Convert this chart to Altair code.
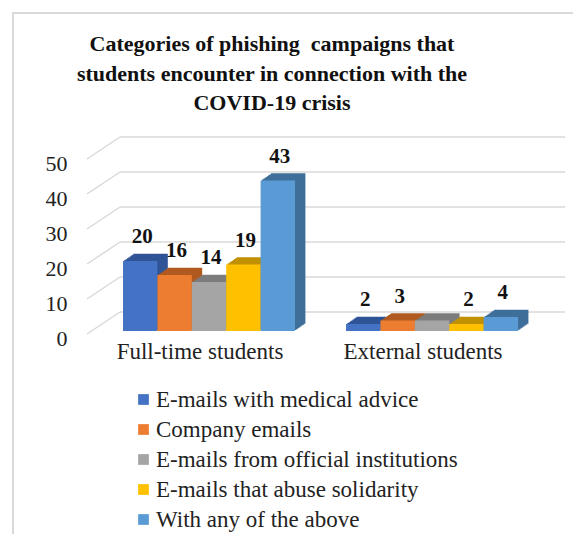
import altair as alt
import pandas as pd

# ---- data ----
groups = ["Full-time students", "External students"]
series = [
    "E-mails with medical advice",
    "Company emails",
    "E-mails from official institutions",
    "E-mails that abuse solidarity",
    "With any of the above",
]
full_time = [20, 16, 14, 19, 43]
external = [2, 3, 3, 2, 4]
full_time_label_shown = [True, True, True, True, True]
external_label_shown = [True, True, False, True, True]
y_ticks = [0, 10, 20, 30, 40, 50]

colors = ["#4472C4", "#ED7D31", "#A5A5A5", "#FFC000", "#5B9BD5"]
dark_colors = ["#2F5597", "#B05A20", "#7C7C7C", "#C09100", "#3F6F9A"]

title_lines = [
    "Categories of phishing\u00a0 campaigns that",
    "students encounter in connection with the",
    "COVID-19 crisis",
]

rows = []
for i, s in enumerate(series):
    rows.append(dict(group=groups[0], series=s, value=full_time[i],
                     show=full_time_label_shown[i], dark=dark_colors[i]))
    rows.append(dict(group=groups[1], series=s, value=external[i],
                     show=external_label_shown[i], dark=dark_colors[i]))
df = pd.DataFrame(rows)
grid_df = pd.DataFrame({"tick": y_ticks})

W, H = 478, 175
BW = 172.0  # width of one category band in pixels
FONT = "Liberation Serif, Times New Roman, serif"

xscale = alt.Scale(domain=groups, paddingInner=0.2287, paddingOuter=0.186, align=0.434)
yscale = alt.Scale(domain=[0, 50], nice=False, zero=True)


def xoff_scale(shift=0.0):
    return alt.Scale(type="band", domain=series, range=[shift, BW + shift],
                     paddingInner=0, paddingOuter=0)


x_axis = alt.Axis(domain=False, ticks=False, labelFont=FONT, labelFontSize=23,
                  labelColor="#222", labelPadding=9, labelOffset=-9,
                  labelAngle=0, labelLimit=300)
y_axis = alt.Axis(values=y_ticks, grid=False, domain=False, ticks=False,
                  labelFont=FONT, labelFontSize=22, labelColor="#222",
                  labelPadding=20, labelOffset=7)

base = alt.Chart(df)

# perspective gridlines
grid_slant = alt.Chart(grid_df).mark_rule(
    color="#d9d9d9", strokeWidth=1.5, yOffset=3, y2Offset=-19
).encode(
    x=alt.value(0), x2=alt.value(33),
    y=alt.Y("tick:Q", scale=yscale, axis=y_axis, title=None), y2="tick:Q",
)
grid_back = alt.Chart(grid_df).mark_rule(
    color="#d9d9d9", strokeWidth=1.5, yOffset=-19
).encode(
    x=alt.value(33), x2=alt.value(W),
    y=alt.Y("tick:Q", scale=yscale, axis=y_axis, title=None),
)

layers = [grid_slant, grid_back]

# depth (3D extrusion) layers
for k in range(8, 0, -1):
    layers.append(
        base.mark_bar(yOffset=-k * 0.9).encode(
            x=alt.X("group:N", scale=xscale, axis=x_axis, title=None),
            xOffset=alt.XOffset("series:N", scale=xoff_scale(k * 1.3)),
            y=alt.Y("value:Q", scale=yscale, axis=y_axis, title=None),
            fill=alt.Fill("dark:N", scale=None),
        )
    )

front = base.mark_bar().encode(
    x=alt.X("group:N", scale=xscale, axis=x_axis, title=None),
    xOffset=alt.XOffset("series:N", scale=xoff_scale(0)),
    y=alt.Y("value:Q", scale=yscale, axis=y_axis, title=None),
    color=alt.Color("series:N", scale=alt.Scale(domain=series, range=colors),
                    legend=alt.Legend(title=None, orient="none", legendX=45, legendY=232,
                                      symbolType="square", symbolSize=115,
                                      symbolStrokeWidth=0, labelFont=FONT,
                                      labelFontSize=23, labelColor="#222",
                                      rowPadding=6, labelLimit=400, labelOffset=1)),
)

labels = base.transform_filter(alt.datum.show).mark_text(
    dy=-24, dx=2, font=FONT, fontSize=21, fontWeight="bold", color="#111", baseline="middle"
).encode(
    x=alt.X("group:N", scale=xscale, axis=x_axis, title=None),
    xOffset=alt.XOffset("series:N", scale=xoff_scale(0)),
    y=alt.Y("value:Q", scale=yscale, axis=y_axis, title=None),
    text=alt.Text("value:Q"),
)

# frame around the whole figure
frame = alt.Chart(pd.DataFrame({"a": [0]})).mark_rect(
    fillOpacity=0, stroke="#d9d9d9", strokeWidth=2
).encode(
    x=alt.value(-74), x2=alt.value(W + 60),
    y=alt.value(-143), y2=alt.value(H + 400),
)

layers += [front, labels, frame]

chart = alt.layer(*layers).resolve_scale(xOffset="independent").properties(
    width=W, height=H,
    title=alt.Title(title_lines, font=FONT, fontSize=22, fontWeight="bold",
                    lineHeight=29.5, anchor="middle", frame="group", dx=-54,
                    dy=143, color="#111", offset=40),
    autosize=alt.AutoSizeParams(type="none"),
    padding={"left": 79, "top": 148, "right": 8, "bottom": 203},
    background="white",
).configure_view(stroke=None)

chart.save("out.html", embed_options={"renderer": "svg", "actions": False})
